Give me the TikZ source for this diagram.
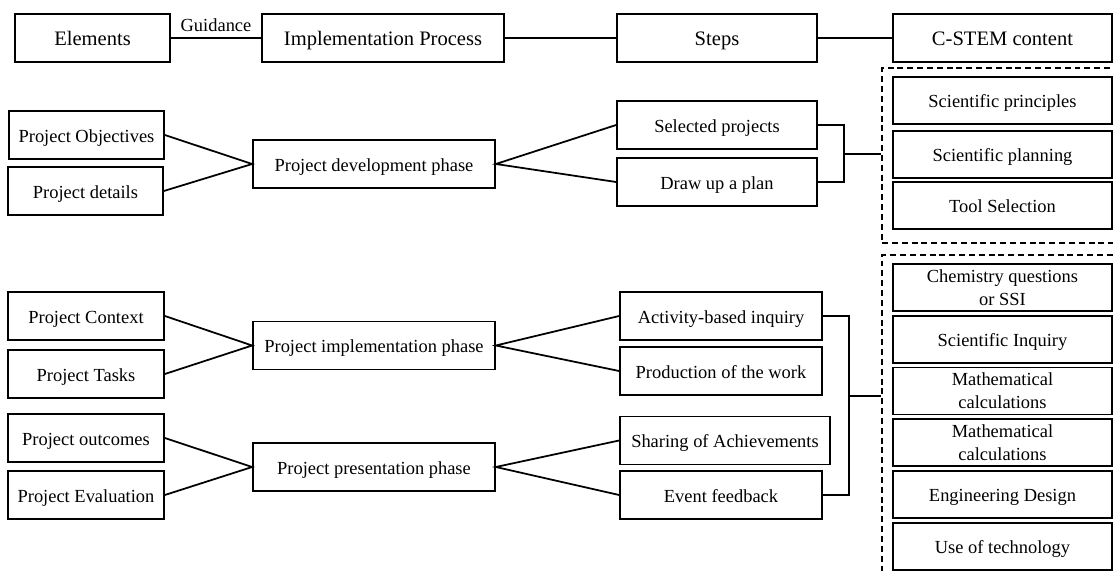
\documentclass[tikz,border=0pt]{standalone}
\usepackage{fontspec}
\setmainfont{Liberation Serif}

\begin{document}
\begin{tikzpicture}[
    x=0.02cm, y=-0.02cm,
    n/.style={rectangle, draw, line width=1pt, inner sep=1pt, minimum height=0.96cm, text height=0.95em, text depth=0.15em, font=\fontsize{10.5}{13}\selectfont},
    h/.style={n, font=\fontsize{11.7}{14}\selectfont},
    c/.style={n, minimum width=4.38cm, minimum height=0.94cm},
    m/.style={rectangle, draw, line width=1pt, inner sep=1pt, align=center, minimum width=4.38cm, minimum height=0.94cm, font=\fontsize{10.5}{13}\selectfont},
    g/.style={rectangle, draw, line width=0.9pt, dash pattern=on 3.4pt off 2.2pt, minimum width=4.86cm},
    l/.style={line width=1pt},
]
\useasboundingbox (0,0) rectangle (1113,574);

% top row
\node[h, minimum width=3.1cm] (el) at (92.5,38) {Elements};
\node[h, minimum width=4.84cm] (ip) at (383,38) {Implementation Process};
\node[h, minimum width=4.0cm] (st) at (717,38) {Steps};
\node[h, minimum width=4.38cm] (cs) at (1002.5,38) {C-STEM content};
\draw[l] (el) -- (ip) node[midway, above, inner sep=3pt, font=\fontsize{10.5}{13}\selectfont] {Guidance};
\draw[l] (ip) -- (st);
\draw[l] (st) -- (cs);

% development phase
\node[n, minimum width=3.1cm] (po) at (86.5,135) {Project Objectives};
\node[n, minimum width=3.1cm] (pd) at (85.5,191) {Project details};
\node[n, minimum width=4.84cm] (dev) at (374,164) {Project development phase};
\node[n, minimum width=4.0cm] (sel) at (717,125) {Selected projects};
\node[n, minimum width=4.0cm] (plan) at (717,182) {Draw up a plan};
\node[g, minimum height=3.5cm] (grp1) at (1003.5,155.5) {};
\node[c] (sp) at (1002.5,100.5) {Scientific principles};
\node[c] (spl) at (1002.5,154.5) {Scientific planning};
\node[c] (ts) at (1002.5,205.5) {Tool Selection};
\draw[l] (po.east) -- (dev.west) -- (pd.east);
\draw[l] (sel.west) -- (dev.east) -- (plan.west);
\draw[l] (sel.east) -- ++(26,0) |- (plan.east);
\coordinate (j1) at (843,154);
\draw[l] (j1) -- (j1 -| grp1.west);

% implementation and presentation phases
\node[n, minimum width=3.12cm] (ctx) at (86,316) {Project Context};
\node[n, minimum width=3.12cm] (tsk) at (86,374) {Project Tasks};
\node[n, minimum width=4.84cm] (impl) at (374,345.5) {Project implementation phase};
\node[n, minimum width=4.04cm] (act) at (721,316) {Activity-based inquiry};
\node[n, minimum width=4.04cm] (prod) at (721,371) {Production of the work};
\node[n, minimum width=3.12cm] (out) at (86,438) {Project outcomes};
\node[n, minimum width=3.12cm] (eva) at (86,495) {Project Evaluation};
\node[n, minimum width=4.84cm] (pres) at (374,467) {Project presentation phase};
\node[n, minimum width=4.2cm] (shr) at (725,440.5) {Sharing of Achievements};
\node[n, minimum width=4.04cm] (fb) at (721,495) {Event feedback};
\draw[l] (ctx.east) -- (impl.west) -- (tsk.east);
\draw[l] (act.west) -- (impl.east) -- (prod.west);
\draw[l] (out.east) -- (pres.west) -- (eva.east);
\draw[l] (shr.west) -- (pres.east) -- (fb.west);
\draw[l] (act.east) -- ++(26,0) |- (fb.east);

\node[g, minimum height=6.9cm] (grp2) at (1003.5,427.5) {};
\node[m] (chem) at (1002.5,287.5) {Chemistry questions\\or SSI};
\node[c] (sinq) at (1002.5,339.5) {Scientific Inquiry};
\node[m] (m1) at (1002.5,391) {Mathematical\\calculations};
\node[m] (m2) at (1002.5,442.5) {Mathematical\\calculations};
\node[c] (eng) at (1002.5,494.5) {Engineering Design};
\node[c] (use) at (1002.5,546.5) {Use of technology};
\coordinate (j2) at (848,396);
\draw[l] (j2) -- (j2 -| grp2.west);
\end{tikzpicture}
\end{document}
